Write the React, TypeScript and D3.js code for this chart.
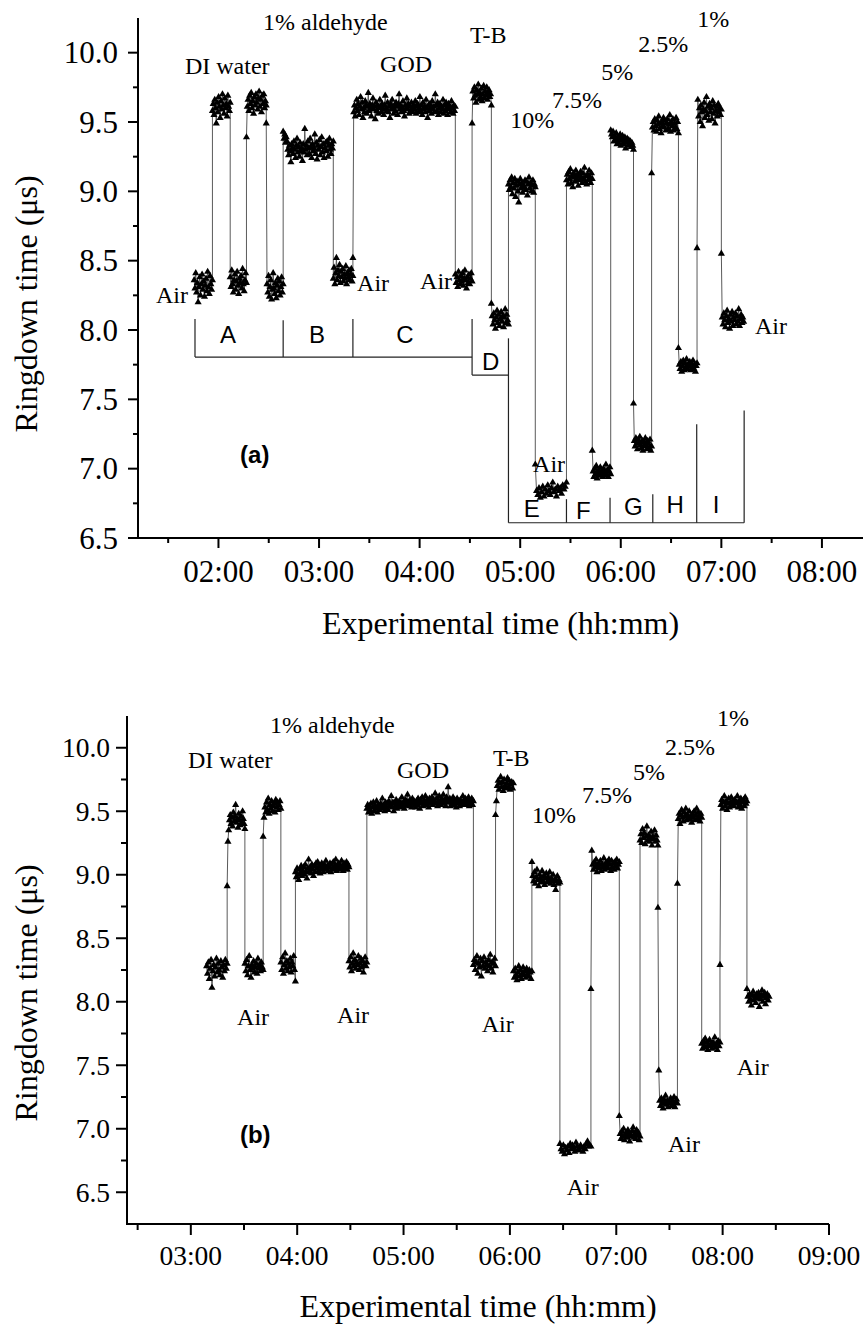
import React from "react";
import * as d3 from "d3";

// ---------- Panel (a) data: segment boundaries (minutes) and ringdown values (µs) ----------
const aBounds = [105.5, 116.4, 127, 136.7, 148.5, 158.6, 188.5, 200.2, 261.3, 271.3, 282.8, 293, 309, 327.6, 343, 354, 367.6, 378.4, 394.4, 405.5, 420, 433.3];
const aValues: number[][] = [
  [8.36, 8.30, 8.41, 8.27, 8.34, 8.20, 8.31, 8.38, 8.25, 8.33, 8.40, 8.29, 8.35, 8.24, 8.32, 8.37, 8.28, 8.42, 8.31, 8.26, 8.39, 8.33, 8.29, 8.36],
  [9.58, 9.63, 9.55, 9.66, 9.60, 9.49, 9.64, 9.57, 9.68, 9.61, 9.53, 9.65, 9.59, 9.70, 9.62, 9.56, 9.67, 9.60, 9.63, 9.54, 9.69, 9.61, 9.58, 9.64],
  [8.38, 8.31, 8.43, 8.33, 8.27, 8.36, 8.40, 8.29, 8.35, 8.42, 8.32, 8.26, 8.37, 8.34, 8.39, 8.30, 8.44, 8.33, 8.28, 8.36, 8.41, 8.34],
  [9.39, 9.61, 9.66, 9.58, 9.69, 9.63, 9.71, 9.60, 9.65, 9.56, 9.68, 9.62, 9.70, 9.64, 9.59, 9.67, 9.72, 9.61, 9.66, 9.57, 9.69, 9.63, 9.70, 9.60, 9.65, 9.62],
  [9.49, 8.33, 8.27, 8.39, 8.24, 8.31, 8.36, 8.22, 8.29, 8.41, 8.30, 8.26, 8.34, 8.23, 8.32, 8.37, 8.28, 8.35, 8.25, 8.31, 8.38, 8.27, 8.33],
  [9.43, 9.38, 9.41, 9.35, 9.39, 9.36, 9.30, 9.26, 9.33, 9.29, 9.21, 9.34, 9.31, 9.27, 9.36, 9.30, 9.24, 9.33, 9.38, 9.28, 9.32, 9.25, 9.35, 9.29, 9.31, 9.22, 9.34, 9.28, 9.45, 9.30, 9.33, 9.26, 9.36, 9.31, 9.27, 9.38, 9.32, 9.24, 9.34, 9.29, 9.31, 9.41, 9.27, 9.35, 9.23, 9.33, 9.30, 9.37, 9.26, 9.32, 9.39, 9.28, 9.34, 9.24, 9.31, 9.35, 9.29, 9.36, 9.25, 9.33, 9.38, 9.30, 9.27, 9.34, 9.31, 9.36],
  [8.37, 8.45, 8.33, 8.41, 8.52, 8.36, 8.43, 8.39, 8.47, 8.34, 8.42, 8.38, 8.44, 8.35, 8.40, 8.37, 8.46, 8.33, 8.41, 8.38, 8.43, 8.36, 8.40, 8.44, 8.35, 8.39],
  [8.52, 9.57, 9.62, 9.54, 9.60, 9.66, 9.58, 9.63, 9.55, 9.61, 9.68, 9.59, 9.64, 9.53, 9.60, 9.57, 9.65, 9.62, 9.56, 9.61,
   9.71, 9.58, 9.63, 9.60, 9.54, 9.62, 9.67, 9.59, 9.61, 9.52, 9.64, 9.58, 9.62, 9.56, 9.60, 9.66, 9.61, 9.57, 9.63, 9.59,
   9.55, 9.62, 9.69, 9.60, 9.58, 9.64, 9.57, 9.61, 9.53, 9.63, 9.59, 9.66, 9.60, 9.56, 9.62, 9.58, 9.64, 9.61, 9.55, 9.63,
   9.70, 9.59, 9.62, 9.57, 9.60, 9.65, 9.58, 9.54, 9.62, 9.60, 9.67, 9.59, 9.63, 9.56, 9.61, 9.58, 9.64, 9.60, 9.57, 9.62,
   9.59, 9.65, 9.56, 9.61, 9.63, 9.57, 9.60, 9.68, 9.58, 9.62, 9.55, 9.64, 9.59, 9.61, 9.57, 9.66, 9.60, 9.53, 9.62, 9.58,
   9.63, 9.60, 9.56, 9.65, 9.59, 9.61, 9.57, 9.70, 9.62, 9.58, 9.64, 9.55, 9.60, 9.63, 9.57, 9.61, 9.59, 9.66, 9.56, 9.62,
   9.58, 9.64, 9.60, 9.55, 9.63, 9.59, 9.61, 9.57, 9.65, 9.60, 9.56, 9.62, 9.58, 9.61],
  [8.40, 8.34, 8.38, 8.31, 8.42, 8.36, 8.33, 8.39, 8.35, 8.41, 8.32, 8.37, 8.43, 8.36, 8.30, 8.38, 8.34, 8.40, 8.33, 8.37, 8.41, 8.35],
  [9.49, 9.72, 9.67, 9.75, 9.69, 9.64, 9.73, 9.70, 9.77, 9.66, 9.71, 9.68, 9.74, 9.65, 9.70, 9.76, 9.67, 9.72, 9.69, 9.75, 9.66, 9.71, 9.73, 9.68, 9.70, 9.62],
  [8.19, 8.10, 8.04, 8.12, 8.07, 8.01, 8.09, 8.14, 8.05, 8.11, 8.03, 8.08, 8.13, 8.06, 8.10, 8.02, 8.09, 8.15, 8.05, 8.11, 8.07, 8.04],
  [9.05, 9.01, 9.08, 9.03, 9.10, 8.98, 9.06, 9.02, 9.09, 8.96, 9.04, 9.07, 9.00, 8.92, 9.05, 9.09, 9.02, 9.06, 8.99, 9.04, 9.03, 9.08, 9.01, 9.07, 8.97, 9.05, 9.10, 9.02, 9.06, 9.00, 9.04, 9.08, 8.99, 9.05, 9.03],
  [7.03, 6.84, 6.81, 6.86, 6.79, 6.83, 6.87, 6.80, 6.85, 6.82, 6.88, 6.84, 6.81, 6.86, 6.90, 6.83, 6.85, 6.80, 6.87, 6.84, 6.86, 6.82, 6.88, 6.85, 6.87, 6.90],
  [9.08, 9.12, 9.05, 9.14, 9.09, 9.16, 9.06, 9.11, 9.03, 9.13, 9.10, 9.07, 9.15, 9.09, 9.12, 9.04, 9.11, 9.08, 9.14, 9.10, 9.06, 9.13, 9.09, 9.17, 9.07, 9.11, 9.05, 9.12, 9.08, 9.15, 9.10, 9.06, 9.13, 9.09],
  [7.13, 6.98, 6.94, 7.00, 6.96, 7.02, 6.93, 6.97, 6.99, 6.95, 7.01, 6.96, 6.98, 6.94, 7.00, 6.97, 6.95, 7.03, 6.96, 6.99, 6.94, 6.98, 7.01, 6.96],
  [9.44, 9.41, 9.39, 9.43, 9.36, 9.40, 9.37, 9.42, 9.34, 9.39, 9.35, 9.38, 9.41, 9.33, 9.37, 9.40, 9.34, 9.36, 9.39, 9.31, 9.35, 9.38, 9.33, 9.37, 9.34, 9.36, 9.32, 9.35, 9.33, 9.30],
  [7.47, 7.20, 7.16, 7.22, 7.18, 7.14, 7.21, 7.19, 7.23, 7.17, 7.15, 7.20, 7.13, 7.16, 7.19, 7.22, 7.17, 7.14, 7.20, 7.18, 7.15, 7.21, 7.13, 7.16],
  [9.13, 9.46, 9.50, 9.44, 9.52, 9.47, 9.43, 9.51, 9.48, 9.54, 9.45, 9.49, 9.42, 9.50, 9.47, 9.53, 9.46, 9.51, 9.44, 9.49, 9.52, 9.45, 9.48, 9.55, 9.43, 9.50, 9.47, 9.52, 9.44, 9.49, 9.46, 9.53, 9.45, 9.50, 9.42],
  [7.87, 7.75, 7.72, 7.77, 7.70, 7.74, 7.78, 7.71, 7.76, 7.73, 7.79, 7.72, 7.75, 7.74, 7.77, 7.71, 7.76, 7.73, 7.78, 7.72, 7.75, 7.70, 7.74, 7.76],
  [8.59, 9.66, 9.54, 9.60, 9.50, 9.62, 9.57, 9.47, 9.59, 9.64, 9.53, 9.58, 9.68, 9.55, 9.61, 9.51, 9.63, 9.57, 9.60, 9.52, 9.65, 9.56, 9.62, 9.49, 9.58, 9.61, 9.54, 9.63, 9.57, 9.60, 9.55, 9.59],
  [8.55, 8.09, 8.04, 8.12, 8.07, 8.02, 8.10, 8.14, 8.05, 8.08, 8.01, 8.11, 8.06, 8.13, 8.03, 8.09, 8.07, 8.12, 8.04, 8.10, 8.06, 8.15, 8.03, 8.08, 8.11, 8.05, 8.09, 8.06],
];

// ---------- Panel (b) data ----------
const bBounds = [188.9, 200.5, 210.5, 220.8, 230.8, 239, 269.2, 279.3, 339.4, 351.9, 362, 372.4, 388.2, 405.7, 421.7, 433.4, 443.5, 454.5, 468.2, 478.5, 493.7, 506.2];
const bValues: number[][] = [
  [8.28, 8.22, 8.31, 8.18, 8.26, 8.33, 8.11, 8.24, 8.29, 8.20, 8.27, 8.34, 8.23, 8.30, 8.25, 8.21, 8.32, 8.27, 8.19, 8.29, 8.24, 8.33, 8.26, 8.30],
  [8.91, 9.26, 9.35, 9.43, 9.47, 9.40, 9.45, 9.38, 9.49, 9.42, 9.46, 9.55, 9.41, 9.44, 9.37, 9.48, 9.43, 9.39, 9.46, 9.41, 9.50, 9.44, 9.40, 9.36],
  [8.30, 8.24, 8.33, 8.21, 8.28, 8.36, 8.25, 8.19, 8.29, 8.26, 8.32, 8.23, 8.27, 8.30, 8.22, 8.34, 8.26, 8.29, 8.24, 8.31, 8.27, 8.25],
  [9.30, 9.45, 9.53, 9.49, 9.57, 9.51, 9.60, 9.48, 9.55, 9.52, 9.58, 9.50, 9.54, 9.56, 9.49, 9.59, 9.53, 9.57, 9.51, 9.55, 9.58, 9.52],
  [8.31, 8.25, 8.35, 8.22, 8.29, 8.38, 8.26, 8.32, 8.24, 8.30, 8.27, 8.34, 8.23, 8.31, 8.28, 8.36, 8.25, 8.16],
  [9.02, 8.98, 9.05, 9.00, 8.96, 9.04, 9.01, 9.07, 8.99, 9.03, 9.06, 9.00, 9.08, 9.02, 8.97, 9.05, 9.12, 9.03, 9.06, 9.01, 9.08, 9.04, 8.99, 9.07, 9.02, 9.09, 9.05, 9.10, 9.03, 9.07, 9.01, 9.04, 9.09, 9.06, 9.02, 9.08, 9.05, 9.11, 9.04, 9.07, 9.03, 9.06, 9.09, 9.02, 9.08, 9.05, 9.10, 9.04, 9.07, 9.12, 9.03, 9.06, 9.09, 9.05, 9.08, 9.04, 9.11, 9.06, 9.03, 9.09, 9.07, 9.05, 9.10, 9.04, 9.08, 9.06],
  [8.32, 8.27, 8.35, 8.24, 8.30, 8.38, 8.28, 8.33, 8.26, 8.31, 8.29, 8.36, 8.25, 8.30, 8.34, 8.27, 8.32, 8.23, 8.29, 8.35, 8.28, 8.31],
  [9.52, 9.55, 9.49, 9.54, 9.51, 9.56, 9.48, 9.53, 9.57, 9.50, 9.54, 9.52, 9.58, 9.49, 9.55, 9.53, 9.51, 9.56, 9.54, 9.60,
   9.52, 9.55, 9.50, 9.57, 9.53, 9.56, 9.51, 9.58, 9.54, 9.55, 9.62, 9.53, 9.57, 9.50, 9.56, 9.54, 9.59, 9.52, 9.57, 9.55,
   9.58, 9.53, 9.56, 9.61, 9.54, 9.57, 9.52, 9.59, 9.55, 9.58, 9.63, 9.56, 9.54, 9.59, 9.57, 9.53, 9.60, 9.56, 9.58, 9.55,
   9.53, 9.58, 9.55, 9.60, 9.57, 9.52, 9.59, 9.56, 9.61, 9.54, 9.58, 9.56, 9.62, 9.55, 9.59, 9.57, 9.53, 9.60, 9.58, 9.56,
   9.61, 9.55, 9.59, 9.57, 9.64, 9.56, 9.60, 9.54, 9.58, 9.62, 9.57, 9.55, 9.60, 9.58, 9.63, 9.56, 9.59, 9.54, 9.61, 9.57,
   9.69, 9.57, 9.60, 9.54, 9.58, 9.56, 9.61, 9.55, 9.59, 9.57, 9.53, 9.60, 9.56, 9.58, 9.54, 9.59, 9.57, 9.55, 9.62, 9.58,
   9.56, 9.60, 9.55, 9.59, 9.57, 9.61, 9.54, 9.58, 9.56, 9.60, 9.55, 9.58],
  [8.29, 8.33, 8.25, 8.31, 8.36, 8.22, 8.30, 8.27, 8.34, 8.20, 8.32, 8.28, 8.35, 8.26, 8.31, 8.29, 8.24, 8.33, 8.28, 8.37, 8.26, 8.31, 8.23, 8.30, 8.34, 8.28],
  [9.47, 9.58, 9.70, 9.74, 9.67, 9.72, 9.77, 9.69, 9.73, 9.66, 9.75, 9.70, 9.68, 9.72, 9.76, 9.69, 9.74, 9.67, 9.71, 9.73, 9.68, 9.72],
  [8.24, 8.19, 8.26, 8.21, 8.17, 8.23, 8.28, 8.20, 8.25, 8.18, 8.22, 8.27, 8.21, 8.24, 8.19, 8.26, 8.22, 8.20, 8.25, 8.23, 8.18, 8.24],
  [9.10, 8.99, 8.95, 9.02, 8.93, 8.98, 9.04, 8.96, 8.91, 9.00, 8.97, 8.94, 9.03, 8.95, 8.99, 8.92, 8.97, 9.01, 8.94, 8.98, 8.96, 9.02, 8.93, 8.97, 8.95, 9.00, 8.92, 8.96, 8.88, 8.95, 8.99, 8.93, 8.96, 8.94],
  [6.88, 6.84, 6.82, 6.87, 6.80, 6.85, 6.83, 6.86, 6.81, 6.88, 6.84, 6.87, 6.85, 6.82, 6.89, 6.86, 6.84, 6.83, 6.87, 6.85, 6.82, 6.86, 6.84, 6.88, 6.90, 6.86, 6.87, 6.86],
  [8.10, 9.19, 9.08, 9.04, 9.10, 9.06, 9.12, 9.02, 9.07, 9.09, 9.05, 9.11, 9.03, 9.08, 9.06, 9.13, 9.04, 9.09, 9.07, 9.10, 9.05, 9.12, 9.08, 9.03, 9.11, 9.06, 9.09, 9.04, 9.10, 9.07, 9.12, 9.05, 9.08, 9.10],
  [7.10, 6.96, 6.92, 6.98, 6.94, 7.00, 6.91, 6.95, 6.97, 6.93, 6.99, 6.95, 6.90, 6.96, 6.94, 6.98, 7.01, 6.93, 6.96, 6.92, 6.99, 6.95, 6.97, 6.91, 6.94],
  [9.27, 9.32, 9.25, 9.36, 9.29, 9.33, 9.24, 9.30, 9.38, 9.27, 9.31, 9.26, 9.29, 9.34, 9.23, 9.30, 9.28, 9.35, 9.26, 9.31, 9.27, 9.23],
  [8.74, 7.46, 7.22, 7.18, 7.24, 7.20, 7.16, 7.23, 7.21, 7.26, 7.19, 7.22, 7.17, 7.21, 7.20, 7.24, 7.18, 7.22, 7.19, 7.25, 7.17, 7.21, 7.23, 7.20],
  [8.93, 9.44, 9.48, 9.40, 9.47, 9.51, 9.45, 9.42, 9.49, 9.46, 9.52, 9.43, 9.47, 9.45, 9.50, 9.44, 9.46, 9.41, 9.48, 9.45, 9.50, 9.43, 9.47, 9.52, 9.44, 9.49, 9.46, 9.42, 9.48, 9.45],
  [7.67, 7.63, 7.69, 7.65, 7.71, 7.64, 7.68, 7.62, 7.66, 7.70, 7.65, 7.67, 7.63, 7.68, 7.66, 7.72, 7.64, 7.67, 7.62, 7.69, 7.65, 7.68],
  [8.29, 9.55, 9.59, 9.52, 9.57, 9.62, 9.54, 9.58, 9.51, 9.56, 9.60, 9.53, 9.57, 9.61, 9.55, 9.58, 9.54, 9.59, 9.56, 9.57, 9.62, 9.53, 9.58, 9.55, 9.60, 9.52, 9.57, 9.59, 9.54, 9.61, 9.56, 9.58],
  [8.10, 8.04, 8.00, 8.06, 8.02, 7.97, 8.05, 8.08, 8.01, 8.04, 7.99, 8.06, 8.03, 8.07, 7.96, 8.02, 8.05, 8.09, 8.00, 8.04, 8.07, 7.98, 8.03, 8.06, 8.01, 8.04],
];

// ---------- Ticks ----------
const aMajorTimes = [120, 180, 240, 300, 360, 420, 480];
const aMinorTimes = [90, 150, 210, 270, 330, 390, 450];
const bMajorTimes = [180, 240, 300, 360, 420, 480, 540];
const bMinorTimes = [150, 210, 270, 330, 390, 450, 510];
const yMajorTicks = [6.5, 7.0, 7.5, 8.0, 8.5, 9.0, 9.5, 10.0];
const yMinorTicks = [6.75, 7.25, 7.75, 8.25, 8.75, 9.25, 9.75];

// ---------- Annotations (anchored in data units: minutes, µs) ----------
type Label = { text: string; t: number; v: number };
const aLabels: Label[] = [
  { text: "1% aldehyde", t: 146.6, v: 10.163 },
  { text: "DI water", t: 100.0, v: 9.846 },
  { text: "GOD", t: 216.4, v: 9.861 },
  { text: "T-B", t: 270.1, v: 10.07 },
  { text: "10%", t: 294.0, v: 9.457 },
  { text: "7.5%", t: 319.0, v: 9.601 },
  { text: "5%", t: 348.3, v: 9.803 },
  { text: "2.5%", t: 370.4, v: 10.005 },
  { text: "1%", t: 405.6, v: 10.185 },
  { text: "Air", t: 82.7, v: 8.195 },
  { text: "Air", t: 202.7, v: 8.281 },
  { text: "Air", t: 240.3, v: 8.296 },
  { text: "Air", t: 307.7, v: 6.976 },
  { text: "Air", t: 440.1, v: 7.971 },
];
const bLabels: Label[] = [
  { text: "1% aldehyde", t: 224.7, v: 10.116 },
  { text: "DI water", t: 178.4, v: 9.84 },
  { text: "GOD", t: 296.3, v: 9.762 },
  { text: "T-B", t: 350.5, v: 9.856 },
  { text: "10%", t: 372.5, v: 9.407 },
  { text: "7.5%", t: 400.7, v: 9.565 },
  { text: "5%", t: 429.4, v: 9.746 },
  { text: "2.5%", t: 447.5, v: 9.943 },
  { text: "1%", t: 476.8, v: 10.171 },
  { text: "Air", t: 206.1, v: 7.817 },
  { text: "Air", t: 262.5, v: 7.835 },
  { text: "Air", t: 344.1, v: 7.764 },
  { text: "Air", t: 487.9, v: 7.423 },
  { text: "Air", t: 449.2, v: 6.819 },
  { text: "Air", t: 392.0, v: 6.478 },
];
const aPanelTag = { text: "(a)", t: 132.9, v: 7.041 };
const bPanelTag = { text: "(b)", t: 207.7, v: 6.888 };

// Bracket segments in data units [t1, v1, t2, v2]
const aBracketLines: number[][] = [
  [106, 8.08, 106, 7.805],
  [106, 7.805, 271.3, 7.805],
  [158.6, 8.07, 158.6, 7.805],
  [200.2, 8.08, 200.2, 7.805],
  [271.3, 8.08, 271.3, 7.675],
  [271.3, 7.675, 293, 7.675],
  [293, 7.94, 293, 6.61],
  [293, 6.61, 433.6, 6.61],
  [327.6, 6.78, 327.6, 6.61],
  [353.6, 6.79, 353.6, 6.61],
  [379.1, 6.815, 379.1, 6.61],
  [405.3, 7.32, 405.3, 6.61],
  [433.6, 7.42, 433.6, 6.61],
];
const aBracketLetters: Label[] = [
  { text: "A", t: 125.7, v: 7.909 },
  { text: "B", t: 178.8, v: 7.909 },
  { text: "C", t: 231.3, v: 7.909 },
  { text: "D", t: 282.4, v: 7.712 },
  { text: "E", t: 306.9, v: 6.651 },
  { text: "F", t: 337.7, v: 6.635 },
  { text: "G", t: 367.5, v: 6.666 },
  { text: "H", t: 392.4, v: 6.68 },
  { text: "I", t: 416.9, v: 6.68 },
];

const SERIF = "'Liberation Serif', 'Times New Roman', serif";
const SANS = "'Liberation Sans', Arial, sans-serif";

type Pt = { t: number; v: number };

function buildPoints(bounds: number[], values: number[][]): Pt[] {
  const pts: Pt[] = [];
  values.forEach((seg, i) => {
    const t0 = bounds[i];
    const t1 = bounds[i + 1];
    const n = seg.length;
    seg.forEach((v, k) => {
      pts.push({ t: t0 + (n > 1 ? (k * (t1 - t0)) / (n - 1) : 0), v });
    });
  });
  return pts;
}

function fmtTime(m: number) {
  const h = Math.floor(m / 60);
  const mm = Math.round(m - h * 60);
  return `${String(h).padStart(2, "0")}:${String(mm).padStart(2, "0")}`;
}

type PanelCfg = {
  bounds: number[];
  values: number[][];
  xDomain: [number, number];
  xRange: [number, number];
  yDomain: [number, number];
  yRange: [number, number];
  majorTimes: number[];
  minorTimes: number[];
  tickFont: number;
  majorLen: number;
  minorLen: number;
  yLabelGap: number;
  xLabelOffset: number;
  xTitleY: number;
  yTitleCenter: number;
  labels: Label[];
  tag: Label;
  brackets?: number[][];
  letters?: Label[];
};

function Panel({ cfg }: { cfg: PanelCfg }) {
  const x = d3.scaleLinear().domain(cfg.xDomain).range(cfg.xRange);
  const y = d3.scaleLinear().domain(cfg.yDomain).range(cfg.yRange);
  const pts = buildPoints(cfg.bounds, cfg.values);
  const line = d3
    .line<Pt>()
    .x((d) => x(d.t))
    .y((d) => y(d.v));
  const tri = d3.symbol(d3.symbolTriangle, 22)() as string;
  const [x0, x1] = cfg.xRange;
  const [yb, yt] = cfg.yRange;
  const fmtY = d3.format(".1f");

  return (
    <g>
      {/* connecting line */}
      <path d={line(pts) || ""} fill="none" stroke="#5a5a5a" strokeWidth={1} />
      {/* markers */}
      {pts.map((p, i) => (
        <path key={i} d={tri} transform={`translate(${x(p.t)},${y(p.v)})`} fill="#000" />
      ))}

      {/* brackets */}
      {(cfg.brackets || []).map((b, i) => (
        <line key={"br" + i} x1={x(b[0])} y1={y(b[1])} x2={x(b[2])} y2={y(b[3])} stroke="#222" strokeWidth={1.2} />
      ))}
      {(cfg.letters || []).map((l, i) => (
        <text key={"lt" + i} x={x(l.t)} y={y(l.v)} textAnchor="middle" fontFamily={SANS} fontSize={24} fill="#000">
          {l.text}
        </text>
      ))}

      {/* annotations */}
      {cfg.labels.map((l, i) => (
        <text key={"lb" + i} x={x(l.t)} y={y(l.v)} fontFamily={SERIF} fontSize={24} fill="#000">
          {l.text}
        </text>
      ))}
      <text x={x(cfg.tag.t)} y={y(cfg.tag.v)} fontFamily={SANS} fontWeight="bold" fontSize={24} fill="#000">
        {cfg.tag.text}
      </text>

      {/* axes */}
      <line x1={x0} y1={yt} x2={x0} y2={yb} stroke="#000" strokeWidth={2} />
      <line x1={x0 - 1} y1={yb} x2={x1} y2={yb} stroke="#000" strokeWidth={2} />
      {yMajorTicks.map((v) => (
        <g key={"ym" + v}>
          <line x1={x0 - cfg.majorLen} x2={x0} y1={y(v)} y2={y(v)} stroke="#000" strokeWidth={2} />
          <text x={x0 - cfg.yLabelGap} y={y(v)} dy="0.34em" textAnchor="end" fontFamily={SERIF} fontSize={cfg.tickFont} fill="#000">
            {fmtY(v)}
          </text>
        </g>
      ))}
      {yMinorTicks.map((v) => (
        <line key={"yn" + v} x1={x0 - cfg.minorLen} x2={x0} y1={y(v)} y2={y(v)} stroke="#000" strokeWidth={2} />
      ))}
      {cfg.majorTimes.map((t) => (
        <g key={"xm" + t}>
          <line x1={x(t)} x2={x(t)} y1={yb} y2={yb + cfg.majorLen} stroke="#000" strokeWidth={2} />
          <text x={x(t)} y={yb + cfg.xLabelOffset} textAnchor="middle" fontFamily={SERIF} fontSize={cfg.tickFont} fill="#000">
            {fmtTime(t)}
          </text>
        </g>
      ))}
      {cfg.minorTimes.map((t) => (
        <line key={"xn" + t} x1={x(t)} x2={x(t)} y1={yb} y2={yb + cfg.minorLen} stroke="#000" strokeWidth={2} />
      ))}

      {/* axis titles */}
      <text x={(x0 + x1) / 2} y={cfg.xTitleY} textAnchor="middle" fontFamily={SERIF} fontSize={32} fill="#000">
        Experimental time (hh:mm)
      </text>
      <text
        transform={`translate(37,${cfg.yTitleCenter}) rotate(-90)`}
        textAnchor="middle"
        fontFamily={SERIF}
        fontSize={32}
        fill="#000"
      >
        Ringdown time (μs)
      </text>
    </g>
  );
}

const topCfg: PanelCfg = {
  bounds: aBounds,
  values: aValues,
  xDomain: [72, 504.5],
  xRange: [138, 863],
  yDomain: [6.5, 10.25],
  yRange: [538, 18],
  majorTimes: aMajorTimes,
  minorTimes: aMinorTimes,
  tickFont: 31,
  majorLen: 10,
  minorLen: 5,
  yLabelGap: 20,
  xLabelOffset: 44,
  xTitleY: 634,
  yTitleCenter: 304,
  labels: aLabels,
  tag: aPanelTag,
  brackets: aBracketLines,
  letters: aBracketLetters,
};

const bottomCfg: PanelCfg = {
  bounds: bBounds,
  values: bValues,
  xDomain: [144, 540],
  xRange: [127, 829],
  yDomain: [6.25, 10.25],
  yRange: [1224, 716],
  majorTimes: bMajorTimes,
  minorTimes: bMinorTimes,
  tickFont: 27.5,
  majorLen: 11,
  minorLen: 6,
  yLabelGap: 17,
  xLabelOffset: 41,
  xTitleY: 1317,
  yTitleCenter: 993,
  labels: bLabels,
  tag: bPanelTag,
};

export default function App() {
  return (
    <svg
      width={863}
      height={1325}
      viewBox="0 0 863 1325"
      style={{ position: "absolute", left: 0, top: 0, background: "#fff" }}
    >
      <rect x={0} y={0} width={863} height={1325} fill="#fff" />
      <Panel cfg={topCfg} />
      <Panel cfg={bottomCfg} />
    </svg>
  );
}
